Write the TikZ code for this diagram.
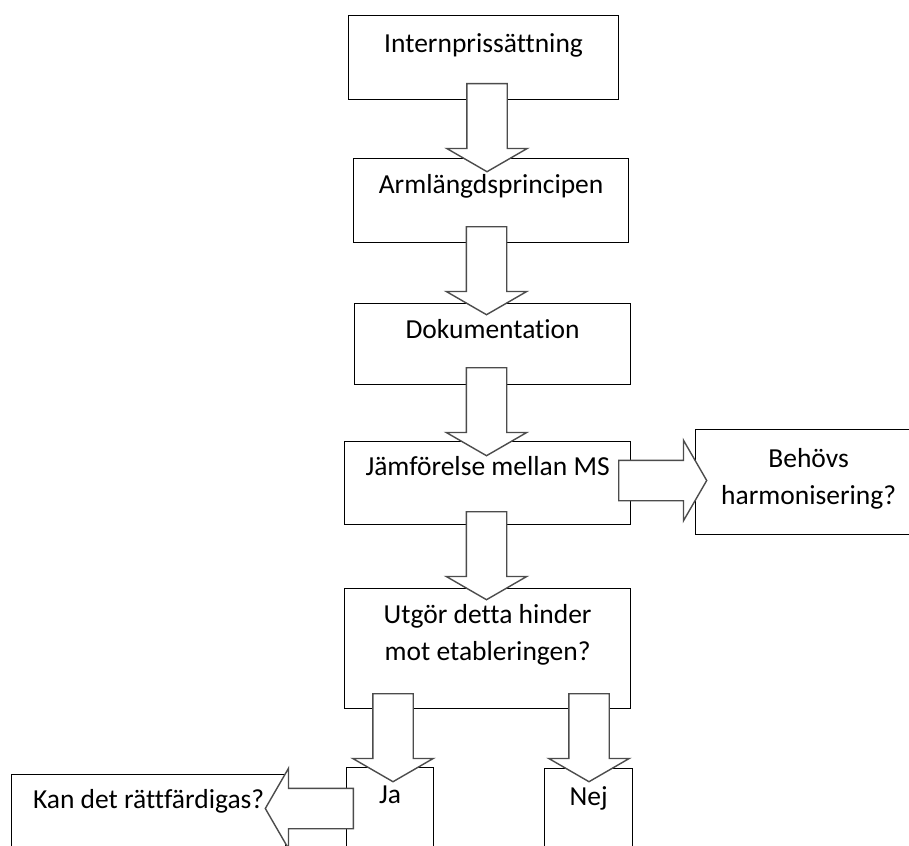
\documentclass[tikz,border=0pt]{standalone}
\usepackage{fontspec}
\setmainfont{Carlito}[Ligatures=NoCommon]
\usetikzlibrary{shapes.arrows}

\newcommand{\boxtext}[4]{\parbox[c][#2pt][t]{#1pt}{\centering\rule{0pt}{#3pt}#4}}

\begin{document}
\begin{tikzpicture}[x=1pt, y=-1pt,
        every node/.style={font=\fontsize{27.5}{37}\selectfont},
        box/.style={draw=black, line width=1.2pt, fill=white, inner sep=0pt, anchor=north west},
        blockarrow/.style={single arrow, draw=black!70, line width=1.4pt, fill=white,
            inner xsep=0pt, inner ysep=19.5pt, minimum width=79pt, minimum height=88pt,
            single arrow head extend=20pt, single arrow tip angle=120, anchor=tail}]
        \clip (0,0) rectangle (909,845);
        \fill[white] (0,0) rectangle (909,845);
        % boxes
        \node[box] (intern) at (348,15) {\boxtext{270}{84}{37}{Internprissättning}};
        \node[box] (arm) at (353,158) {\boxtext{275}{84}{35}{Armlängdsprincipen}};
        \node[box] (dok) at (354,303) {\boxtext{276}{81}{35}{Dokumentation}};
        \node[box] (jamf) at (344,441) {\boxtext{286}{83}{34}{Jämförelse mellan MS}};
        \node[box] (harm) at (695,429) {\boxtext{226}{105}{38}{Behövs\\harmonisering?}};
        \node[box] (hinder) at (344,588) {\boxtext{286}{120}{35}{Utgör detta hinder\\mot etableringen?}};
        \node[box] (ja) at (346,767) {\boxtext{87}{100}{36}{Ja}};
        \node[box] (nej) at (544,768) {\boxtext{88}{100}{37}{Nej}};
        \node[box] (kan) at (11,774) {\boxtext{274}{100}{34}{Kan det rättfärdigas?}};
        % arrows
        \node[blockarrow, rotate=-90] (a1) at (487,83) {};
        \node[blockarrow, rotate=-90] (a2) at (486.5,226) {};
        \node[blockarrow, rotate=-90] (a3) at (486.5,367) {};
        \node[blockarrow, rotate=-90] (a4) at (486.5,511) {};
        \node[blockarrow] (a5) at (618,480.5) {};
        \node[blockarrow, rotate=-90] (a6) at (393,693) {};
        \node[blockarrow, rotate=-90] (a7) at (589,693) {};
        \node[blockarrow, rotate=180] (a8) at (354,808.5) {};
\end{tikzpicture}
\end{document}
